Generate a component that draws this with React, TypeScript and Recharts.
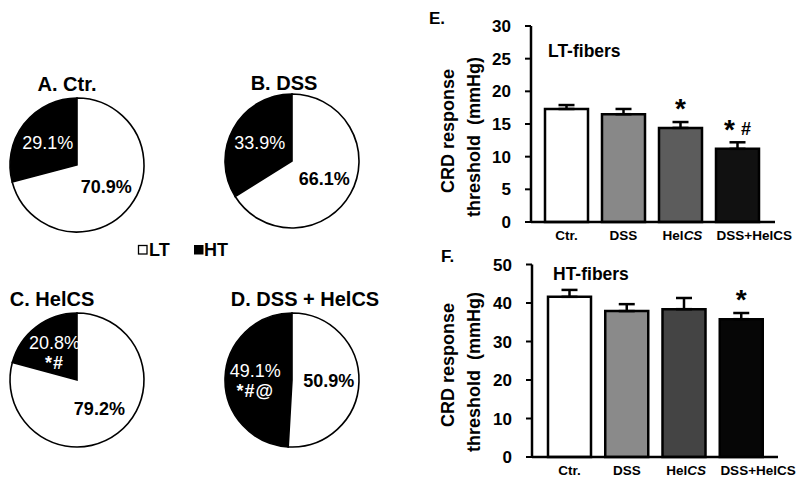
import React from 'react';
import { PieChart, Pie, Cell, BarChart, Bar, XAxis, YAxis, ErrorBar, LabelList } from 'recharts';

// ---- Pie data (A–D) ----
const pieTitles = ['A. Ctr.', 'B. DSS', 'C. HelCS', 'D. DSS + HelCS'];
const fiberTypes = ['HT', 'LT'];
const htPercent = [29.1, 33.9, 20.8, 49.1];
const ltPercent = [70.9, 66.1, 79.2, 50.9];
const htSig = ['', '', '*#', '*#@'];

// ---- Bar data (E, F) ----
const groups = ['Ctr.', 'DSS', 'HelCS', 'DSS+HelCS'];
const ltThreshold = [17.3, 16.5, 14.4, 11.2];
const ltSem = [0.6, 0.8, 0.9, 1.0];
const ltSig = ['', '', '*', '* #'];
const htThreshold = [41.6, 37.9, 38.4, 35.8];
const htSem = [1.8, 1.8, 2.9, 1.6];
const htSigBar = ['', '', '', '*'];
const ltTicks = [0, 5, 10, 15, 20, 25, 30];
const htTicks = [0, 10, 20, 30, 40, 50];

const ltColors = ['#ffffff', '#888888', '#5c5c5c', '#111111'];
const htColors = ['#ffffff', '#8a8a8a', '#444444', '#060606'];

const FONT = "Arial, 'Liberation Sans', Helvetica, sans-serif";
const RAD = Math.PI / 180;

const pieData = htPercent.map((h, i) => [
  { name: fiberTypes[0], value: h },
  { name: fiberTypes[1], value: ltPercent[i] },
]);

const ltData = groups.map((g, i) => ({ group: g, value: ltThreshold[i], err: [0, ltSem[i]], sig: ltSig[i] }));
const htData = groups.map((g, i) => ({ group: g, value: htThreshold[i], err: [0, htSem[i]], sig: htSigBar[i] }));

const makePieLabel = (pieIdx: number) => (props: any) => {
  const { cx, cy, midAngle, outerRadius, index } = props;
  const value = props.value ?? props.payload?.value;
  const r = outerRadius * 0.55;
  const x = cx + r * Math.cos(-midAngle * RAD);
  const y = cy + r * Math.sin(-midAngle * RAD);
  const isHT = index === 0;
  const sig = isHT ? htSig[pieIdx] : '';
  return (
    <text
      x={x}
      y={y}
      textAnchor="middle"
      fill={isHT ? '#fff' : '#000'}
      fontWeight={isHT ? 'normal' : 'bold'}
      fontSize={18}
      fontFamily={FONT}
    >
      <tspan x={x} dy={sig ? -2 : 6}>{Number(value).toFixed(1)}%</tspan>
      {sig ? (
        <tspan x={x} dy={20} fontWeight="bold" letterSpacing={1}>{sig}</tspan>
      ) : null}
    </text>
  );
};

const GroupTick = (props: any) => {
  const { x, y, payload, index, visibleTicksCount } = props;
  const v: string = payload.value;
  const isLast = index === (visibleTicksCount ?? groups.length) - 1;
  const common = {
    textAnchor: (isLast ? 'start' : 'middle') as 'start' | 'middle',
    fontSize: 13.5,
    fontWeight: 'bold' as const,
    fill: '#000',
    fontFamily: FONT,
  };
  const tx = isLast ? x - 21 : x;
  if (v === 'HelCS') {
    return (
      <text x={tx + 2} y={y + 18} {...common}>
        Hel<tspan fontStyle="italic">CS</tspan>
      </text>
    );
  }
  return (
    <text x={tx} y={y + 18} {...common}>
      {v}
    </text>
  );
};

const SigLabel = (props: any) => {
  const { x, y, width, value } = props;
  if (!value) return null;
  const cx = Number(x) + Number(width) / 2;
  const parts = String(value).split(' ');
  return (
    <text x={cx} y={Number(y) - 10} textAnchor="middle" fontFamily={FONT} fontWeight="bold" fill="#000">
      {parts.map((p, i) => (
        <tspan key={i} fontSize={p === '*' ? 28 : 18} dx={i > 0 ? 6 : 0} dy={i > 0 ? -4 : 0}>
          {p}
        </tspan>
      ))}
    </text>
  );
};

const pieLayout = [
  { cx: 77, cy: 165 },
  { cx: 292, cy: 161 },
  { cx: 77, cy: 380 },
  { cx: 292, cy: 380 },
];

const titleLayout = [
  { x: 67, y: 91 },
  { x: 284, y: 90 },
  { x: 52, y: 306 },
  { x: 305, y: 306 },
];

const sliceFill = ['#000000', '#ffffff'];

export default function App() {
  return (
    <div style={{ position: 'absolute', left: 0, top: 0, width: 800, height: 483, background: '#fff', fontFamily: FONT }}>
      <div style={{ position: 'absolute', left: 0, top: 0 }}>
        <PieChart width={400} height={483} margin={{ top: 0, right: 0, bottom: 0, left: 0 }}>
          {pieData.map((d, i) => (
            <Pie
              key={i}
              data={d}
              dataKey="value"
              nameKey="name"
              cx={pieLayout[i].cx}
              cy={pieLayout[i].cy}
              outerRadius={67}
              startAngle={90}
              endAngle={450}
              stroke="#000"
              strokeWidth={1.6}
              label={makePieLabel(i)}
              labelLine={false}
              isAnimationActive={false}
            >
              {d.map((_, j) => (
                <Cell key={j} fill={sliceFill[j]} />
              ))}
            </Pie>
          ))}
        </PieChart>
      </div>

      <div style={{ position: 'absolute', left: 400, top: 0 }}>
        <BarChart width={400} height={242} data={ltData} margin={{ top: 26, right: 25, bottom: 0, left: 0 }}>
          <XAxis
            dataKey="group"
            height={20}
            padding={{ left: 7, right: 9 }}
            axisLine={{ stroke: '#000', strokeWidth: 2.5 }}
            tickLine={false}
            tickSize={0}
            tickMargin={0}
            interval={0}
            tick={<GroupTick />}
          />
          <YAxis
            width={131}
            domain={[0, 30]}
            ticks={ltTicks}
            interval={0}
            axisLine={{ stroke: '#000', strokeWidth: 2.5 }}
            tickLine={{ stroke: '#000', strokeWidth: 2 }}
            tickSize={6}
            tickMargin={14}
            tick={{ fill: '#000', fontSize: 17, fontWeight: 'bold', fontFamily: FONT }}
          />
          <Bar dataKey="value" barSize={43} stroke="#000" strokeWidth={2.5} isAnimationActive={false}>
            {ltData.map((_, i) => (
              <Cell key={i} fill={ltColors[i]} />
            ))}
            <ErrorBar dataKey="err" width={8} stroke="#000" strokeWidth={2.5} direction="y" />
            <LabelList dataKey="sig" content={<SigLabel />} />
          </Bar>
        </BarChart>
      </div>

      <div style={{ position: 'absolute', left: 400, top: 240 }}>
        <BarChart width={400} height={237} data={htData} margin={{ top: 24.5, right: 22, bottom: 0, left: 0 }}>
          <XAxis
            dataKey="group"
            height={20}
            padding={{ left: 9, right: 8 }}
            axisLine={{ stroke: '#000', strokeWidth: 2.5 }}
            tickLine={false}
            tickSize={0}
            tickMargin={0}
            interval={0}
            tick={<GroupTick />}
          />
          <YAxis
            width={132}
            domain={[0, 50]}
            ticks={htTicks}
            interval={0}
            axisLine={{ stroke: '#000', strokeWidth: 2.5 }}
            tickLine={{ stroke: '#000', strokeWidth: 2 }}
            tickSize={6}
            tickMargin={14}
            tick={{ fill: '#000', fontSize: 17, fontWeight: 'bold', fontFamily: FONT }}
          />
          <Bar dataKey="value" barSize={43} stroke="#000" strokeWidth={2.5} isAnimationActive={false}>
            {htData.map((_, i) => (
              <Cell key={i} fill={htColors[i]} />
            ))}
            <ErrorBar dataKey="err" width={8} stroke="#000" strokeWidth={2.5} direction="y" />
            <LabelList dataKey="sig" content={<SigLabel />} />
          </Bar>
        </BarChart>
      </div>

      <svg width={800} height={483} style={{ position: 'absolute', left: 0, top: 0, pointerEvents: 'none' }}>
        <g fontFamily={FONT} fontWeight="bold" fill="#000">
          {pieTitles.map((t, i) => (
            <text key={t} x={titleLayout[i].x} y={titleLayout[i].y} textAnchor="middle" fontSize={20}>
              {t}
            </text>
          ))}
          {/* legend */}
          <rect x={138.5} y={245.5} width={8.5} height={8.5} fill="#fff" stroke="#000" strokeWidth={1.3} />
          <text x={149} y={256} fontSize={18}>LT</text>
          <rect x={194} y={245} width={9.5} height={9.5} fill="#000" />
          <text x={204} y={256} fontSize={18}>HT</text>

          {/* panel E */}
          <text x={429} y={24} fontSize={17}>E.</text>
          <text x={548} y={57} fontSize={17.5}>LT-fibers</text>
          <text transform="translate(454,131) rotate(-90)" textAnchor="middle" fontSize={18}>CRD response</text>
          <text transform="translate(480,137) rotate(-90)" textAnchor="middle" fontSize={18} xmlSpace="preserve">threshold  (mmHg)</text>

          {/* panel F */}
          <text x={441} y={262} fontSize={17}>F.</text>
          <text x={553} y={280} fontSize={17.5}>HT-fibers</text>
          <text transform="translate(454,365) rotate(-90)" textAnchor="middle" fontSize={18}>CRD response</text>
          <text transform="translate(480,372) rotate(-90)" textAnchor="middle" fontSize={18} xmlSpace="preserve">threshold  (mmHg)</text>
        </g>
      </svg>
    </div>
  );
}
